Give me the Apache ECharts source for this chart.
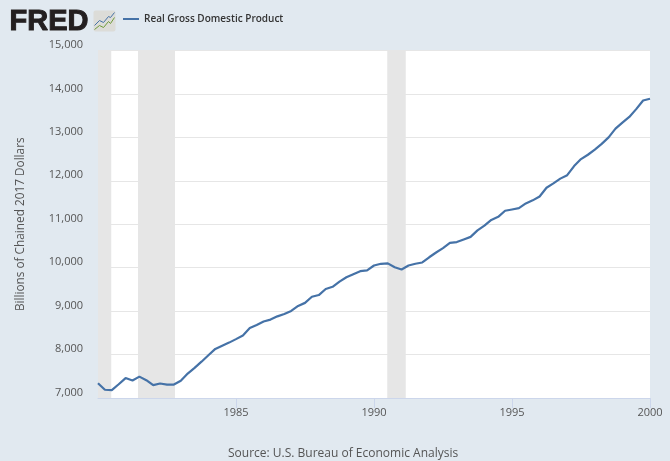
<!DOCTYPE html>
<html>
<head>
<meta charset="utf-8">
<style>
	html, body { margin: 0; padding: 0; background: #e1e9f0; }
	#chart { width: 670px; height: 461px; }
</style>
<script src="https://cdn.jsdelivr.net/npm/echarts@6/dist/echarts.min.js"></script>
</head>
<body>
<div id="chart"></div>
<script>
	const seriesName = 'Real Gross Domestic Product';
	const yAxisName = 'Billions of Chained 2017 Dollars';
	const sourceText = 'Source: U.S. Bureau of Economic Analysis';

	const quarters = [
		1980, 1980.25, 1980.5, 1980.75,
		1981, 1981.25, 1981.5, 1981.75,
		1982, 1982.25, 1982.5, 1982.75,
		1983, 1983.25, 1983.5, 1983.75,
		1984, 1984.25, 1984.5, 1984.75,
		1985, 1985.25, 1985.5, 1985.75,
		1986, 1986.25, 1986.5, 1986.75,
		1987, 1987.25, 1987.5, 1987.75,
		1988, 1988.25, 1988.5, 1988.75,
		1989, 1989.25, 1989.5, 1989.75,
		1990, 1990.25, 1990.5, 1990.75,
		1991, 1991.25, 1991.5, 1991.75,
		1992, 1992.25, 1992.5, 1992.75,
		1993, 1993.25, 1993.5, 1993.75,
		1994, 1994.25, 1994.5, 1994.75,
		1995, 1995.25, 1995.5, 1995.75,
		1996, 1996.25, 1996.5, 1996.75,
		1997, 1997.25, 1997.5, 1997.75,
		1998, 1998.25, 1998.5, 1998.75,
		1999, 1999.25, 1999.5, 1999.75,
		2000
	];
	const gdpValues = [
		7341, 7190, 7181, 7316,
		7459, 7404, 7492, 7411,
		7295, 7333, 7309, 7309,
		7398, 7563, 7694, 7836,
		7983, 8130, 8205, 8275,
		8355, 8440, 8610, 8680,
		8760, 8805, 8880, 8935,
		9005, 9120, 9190, 9330,
		9370, 9510, 9560, 9680,
		9780, 9850, 9920, 9940,
		10050, 10090, 10100, 10010,
		9960, 10050, 10090, 10120,
		10240, 10350, 10450, 10570,
		10590, 10650, 10710, 10860,
		10970, 11100, 11170, 11310,
		11340, 11370, 11480, 11550,
		11640, 11840, 11940, 12050,
		12130, 12340, 12500, 12600,
		12720, 12850, 13000, 13200,
		13340, 13470, 13650, 13850,
		13890
	];
	const recessions = [
		[1980, 1980.48],
		[1981.45, 1982.79],
		[1990.48, 1991.15]
	];

	const chart = echarts.init(document.getElementById('chart'));
	chart.setOption({
		animation: false,
		backgroundColor: '#e1e9f0',
		textStyle: { fontFamily: 'Open Sans' },
		legend: {
			left: 123,
			top: 14,
			padding: 0,
			icon: 'rect',
			itemWidth: 16,
			itemHeight: 2,
			itemGap: 6,
			textStyle: {
				color: '#333333',
				fontSize: 10,
				fontWeight: 600,
				fontFamily: 'Open Sans'
			},
			data: [seriesName]
		},
		grid: {
			show: true,
			backgroundColor: '#ffffff',
			borderWidth: 0,
			left: 98,
			right: 20,
			top: 50.5,
			bottom: 63
		},
		xAxis: {
			type: 'value',
			min: 1980,
			max: 2000,
			interval: 5,
			axisLine: { show: true, lineStyle: { color: '#ccd6eb', width: 1 } },
			axisTick: { show: true, length: 10, lineStyle: { color: '#ccd6eb', width: 1 } },
			splitLine: { show: false },
			axisLabel: {
				color: '#555555',
				fontSize: 11,
				margin: 9,
				showMinLabel: false,
				formatter: val => String(val)
			}
		},
		yAxis: {
			type: 'value',
			min: 7000,
			max: 15000,
			interval: 1000,
			name: yAxisName,
			nameLocation: 'middle',
			nameGap: 71,
			nameTextStyle: { color: '#555555', fontSize: 11.8 },
			axisLine: { show: false },
			axisTick: { show: false },
			splitLine: { lineStyle: { color: '#e6e6e6', width: 1 } },
			axisLabel: {
				color: '#555555',
				fontSize: 11,
				margin: 15,
				verticalAlign: 'bottom'
			}
		},
		series: [{
			name: seriesName,
			type: 'line',
			symbol: 'none',
			color: '#4572a7',
			lineStyle: { width: 2.2, color: '#4572a7' },
			data: quarters.map((q, i) => [q, gdpValues[i]]),
			z: 5,
			markArea: {
				silent: true,
				itemStyle: { color: '#e6e6e6', opacity: 1 },
				data: recessions.map(r => [{ xAxis: r[0] }, { xAxis: r[1] }])
			}
		}],
		graphic: [
			{
				type: 'text',
				left: 9,
				top: 7,
				style: {
					text: 'FRED',
					fill: '#231f20',
					font: '900 29px "Liberation Sans"',
					stroke: '#231f20',
					lineWidth: 1
				}
			},
			{
				type: 'group',
				left: 92,
				top: 10,
				children: [
					{
						type: 'rect',
						shape: { x: 0, y: 0, width: 22, height: 21, r: 2 },
						style: { fill: '#dcdcd8' }
					},
					{
						type: 'polyline',
						shape: { points: [[1, 15], [6, 10], [10, 12], [15, 6], [17, 7], [21, 2]] },
						style: { stroke: '#4572a7', fill: null, lineWidth: 1 }
					},
					{
						type: 'polyline',
						shape: { points: [[1, 19], [6, 15], [10, 17], [15, 11], [17, 13], [21, 7]] },
						style: { stroke: '#6f9a3a', fill: null, lineWidth: 1 }
					}
				]
			},
			{
				type: 'text',
				left: 228,
				top: 448,
				style: {
					text: sourceText,
					fill: '#555555',
					font: '12px "Open Sans"'
				}
			}
		]
	});
</script>
</body>
</html>
